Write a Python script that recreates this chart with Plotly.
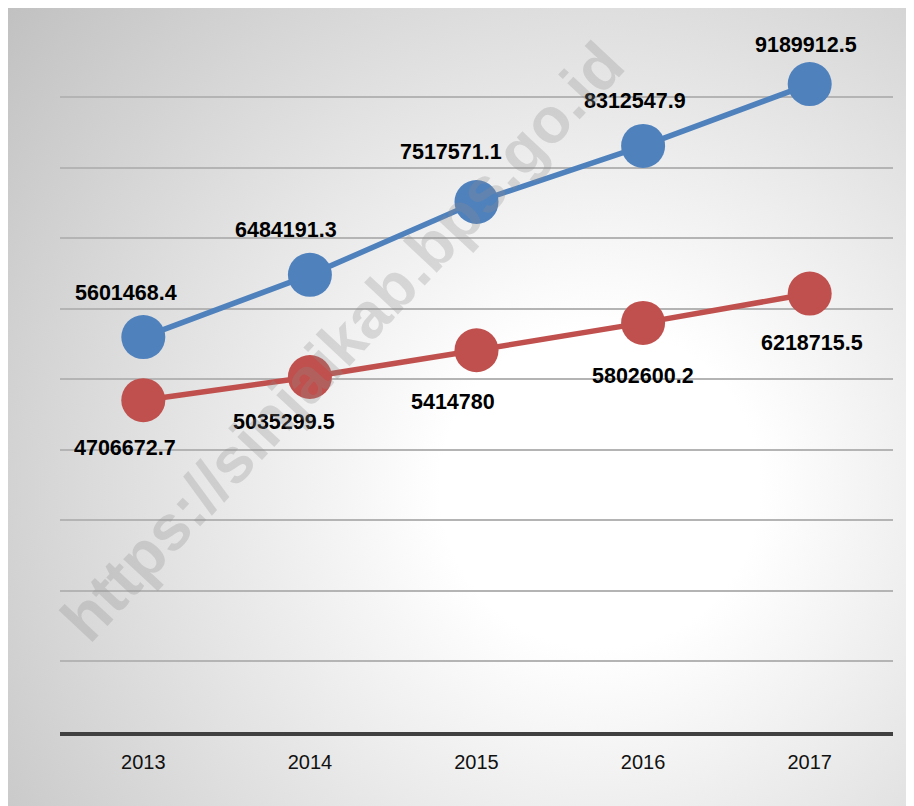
import base64
import plotly.graph_objects as go

years = ["2013", "2014", "2015", "2016", "2017"]
series_blue = [5601468.4, 6484191.3, 7517571.1, 8312547.9, 9189912.5]
series_red = [4706672.7, 5035299.5, 5414780, 5802600.2, 6218715.5]
label_blue = ["5601468.4", "6484191.3", "7517571.1", "8312547.9", "9189912.5"]
label_red = ["4706672.7", "5035299.5", "5414780", "5802600.2", "6218715.5"]

BLUE = "#4F81BD"
RED = "#C0504D"

# page has an 8px body margin, so the figure is sized to fit the window
W, H = 906, 798
L, R, T, B = 52, 21, 26, 74
pw, ph = W - L - R, H - T - B

svg = """<svg xmlns='http://www.w3.org/2000/svg' width='906' height='798' viewBox='0 0 906 798' preserveAspectRatio='none'>
<defs><radialGradient id='g' gradientUnits='userSpaceOnUse' cx='592' cy='480' r='800'>
<stop offset='0' stop-color='#ffffff'/><stop offset='0.2' stop-color='#ffffff'/>
<stop offset='1' stop-color='#bdbdbd'/></radialGradient></defs>
<rect x='0' y='0' width='906' height='798' fill='url(#g)'/>
</svg>"""
src = "data:image/svg+xml;base64," + base64.b64encode(svg.encode()).decode()

fig = go.Figure()
fig.add_trace(go.Scatter(
    x=years, y=series_blue, mode="lines+markers",
    line=dict(color=BLUE, width=5.5),
    marker=dict(color=BLUE, size=44, line=dict(width=0)),
    cliponaxis=False, showlegend=False, hoverinfo="skip"))
fig.add_trace(go.Scatter(
    x=years, y=series_red, mode="lines+markers",
    line=dict(color=RED, width=5.5),
    marker=dict(color=RED, size=44, line=dict(width=0)),
    cliponaxis=False, showlegend=False, hoverinfo="skip"))

lab_font = dict(family="Liberation Sans", size=21.5, color="#000000")
blue_dx = [-17, -24, -26, -8, -4]
blue_dy = [44, 45, 50, 45, 39]
red_dx = [-18, -26, -24, 0, 2]
red_dy = [-48, -45, -52, -53, -49]
for i, yr in enumerate(years):
    fig.add_annotation(x=i, y=series_blue[i], text="<b>%s</b>" % label_blue[i],
                       showarrow=False, xshift=blue_dx[i], yshift=blue_dy[i], font=lab_font)
    fig.add_annotation(x=i, y=series_red[i], text="<b>%s</b>" % label_red[i],
                       showarrow=False, xshift=red_dx[i], yshift=red_dy[i], font=lab_font)

# watermark
fig.add_annotation(xref="paper", yref="paper", x=(334 - L) / pw, y=(T + ph - 334) / ph,
                   text="<b>https://sinjaikab.bps.go.id</b>", showarrow=False, textangle=-47,
                   font=dict(family="Liberation Sans", size=64, color="rgba(140,140,140,0.28)"))

fig.add_layout_image(dict(source=src, xref="paper", yref="paper",
                          x=-L / pw, y=(T + ph) / ph,
                          sizex=W / pw, sizey=H / ph,
                          sizing="stretch", xanchor="left", yanchor="top",
                          layer="below", opacity=1))

fig.update_layout(
    width=W, height=H,
    margin=dict(l=L, r=R, t=T, b=B, pad=0),
    paper_bgcolor="#ffffff", plot_bgcolor="rgba(0,0,0,0)",
    font=dict(family="Liberation Sans", color="#000000"),
    xaxis=dict(type="category", range=[-0.5, 4.5], showgrid=False,
               showline=True, linecolor="#404040", linewidth=4,
               ticks="", tickfont=dict(size=20, color="#111111"), ticklabelstandoff=9,
               zeroline=False, fixedrange=True),
    yaxis=dict(range=[0, 9.9e6], dtick=1e6, tick0=0, showgrid=True,
               gridcolor="#b4b4b4", gridwidth=1.5, showticklabels=False,
               zeroline=False, showline=False, fixedrange=True),
)

fig.write_html("out.html")
